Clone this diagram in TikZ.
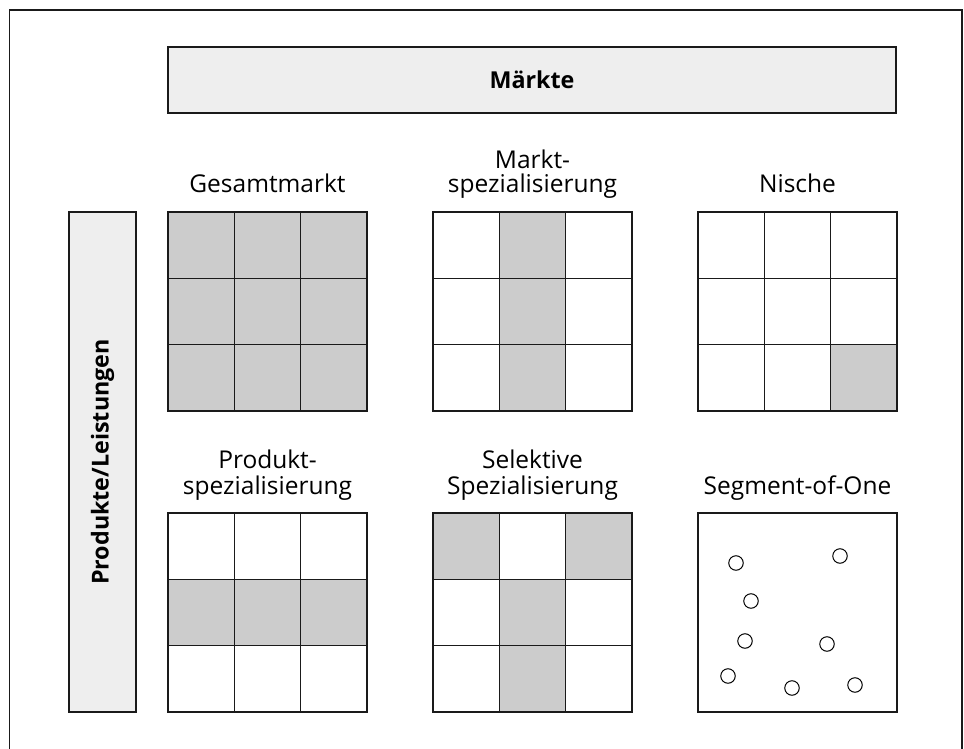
\documentclass[tikz,border=0pt]{standalone}
\usepackage{fontspec}
\setmainfont{Open Sans}
\definecolor{cellgrey}{HTML}{CCCCCC}
\definecolor{bargrey}{HTML}{EEEEEE}
\definecolor{linegrey}{HTML}{1A1A1A}
\begin{document}
\begin{tikzpicture}[x=1pt,y=-1pt,
  frame/.style={draw=linegrey,line width=1.4pt},
  bar/.style={draw=linegrey,fill=bargrey,line width=1.2pt},
  gridline/.style={draw=linegrey,line width=1.2pt},
  shaded/.style={fill=cellgrey},
  dot/.style={draw=black,fill=white,line width=1pt},
  lbl/.style={font=\fontsize{24.5}{26}\selectfont,anchor=base,inner sep=0pt},
  head/.style={font=\fontsize{23.3}{25}\selectfont\bfseries,inner sep=0pt}]
\useasboundingbox (0,0) rectangle (964,749);

% outer frame, open towards the bottom edge
\draw[frame] (9.5,760) -- (9.5,10) -- (962,10) -- (962,760);

% axis bars
\draw[bar] (168,47) rectangle (896,113);
\node[head] (maerkte) at (532,80) {Märkte};
\draw[bar] (69,212) rectangle (136,712);
\node[head,rotate=90] (produkte) at (102.5,462) {Produkte/Leistungen};

% 3x3 grid: #1,#2 = top-left corner, #3 = list of shaded cells (column/row)
\newcommand\segmentgrid[3]{%
  \begin{scope}[shift={(#1,#2)}]
    \foreach \c/\r in {#3}{%
      \fill[shaded] ({\c*199/3},{\r*199/3}) rectangle ({(\c+1)*199/3},{(\r+1)*199/3});}
    \foreach \k in {1,2}{%
      \draw[gridline] ({\k*199/3},0) -- ({\k*199/3},199);
      \draw[gridline] (0,{\k*199/3}) -- (199,{\k*199/3});}
    \draw[gridline] (0,0) rectangle (199,199);
  \end{scope}}

% top row
\segmentgrid{168}{212}{0/0,1/0,2/0,0/1,1/1,2/1,0/2,1/2,2/2}
\segmentgrid{433}{212}{1/0,1/1,1/2}
\segmentgrid{698}{212}{2/2}
% bottom row
\segmentgrid{168}{513}{0/1,1/1,2/1}
\segmentgrid{433}{513}{0/0,2/0,1/1,1/2}
\draw[gridline] (698,513) rectangle (897,712);

% individual customers
\foreach \px/\py [count=\i] in {736/563,840/556,751/601,745/641,827/644,728/676,792/688,855/685}{
  \node[dot,circle,minimum size=14.5pt,inner sep=0pt] (kunde\i) at (\px,\py) {};}

% strategy labels
\node[lbl] (gesamt) at (267.5,193) {Gesamtmarkt};
\node[lbl] (markt1) at (532.5,168) {Markt-};
\node[lbl] (markt2) at (532.5,193) {spezialisierung};
\node[lbl] (nische) at (797.5,193) {Nische};
\node[lbl] (prod1) at (267.5,468) {Produkt-};
\node[lbl] (prod2) at (267.5,494) {spezialisierung};
\node[lbl] (sel1) at (532.5,468) {Selektive};
\node[lbl] (sel2) at (532.5,494) {Spezialisierung};
\node[lbl] (one) at (797.5,494) {Segment-of-One};
\end{tikzpicture}
\end{document}
